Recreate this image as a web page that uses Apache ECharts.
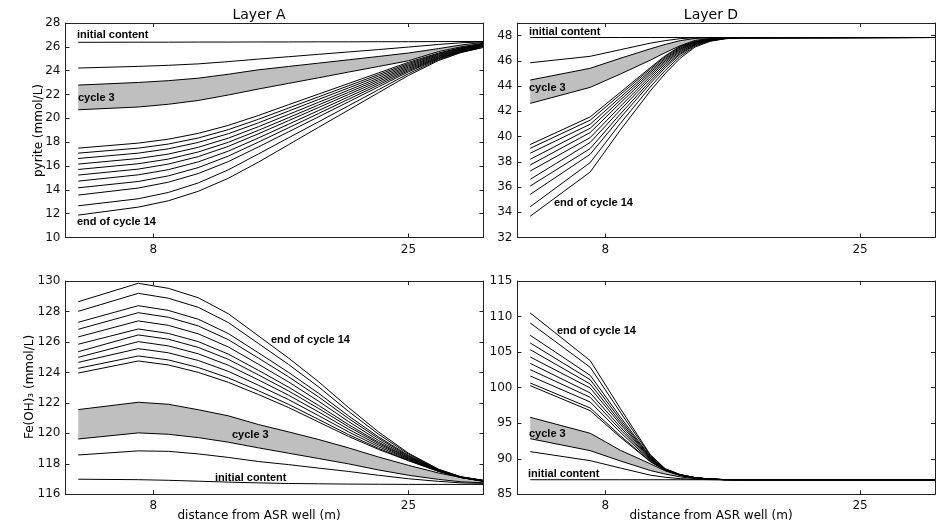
<!DOCTYPE html>
<html>
<head>
<meta charset="utf-8">
<script src="https://cdn.jsdelivr.net/npm/echarts@6/dist/echarts.min.js"></script>
<style>
  html, body { margin: 0; padding: 0; background: #fff; }
  #chart { width: 939px; height: 525px; }
</style>
</head>
<body>
<div id="chart"></div>
<script>
// Distance from the ASR well (m) at which concentrations are reported
var xLayerA = [3, 7, 9, 11, 13, 15, 17, 19, 21, 23, 25, 27, 28.5, 30];
var xLayerD = [3, 7, 9, 11, 12, 13, 14, 15, 16, 17, 30];

// Tick positions
var xTicks = [8, 25];
var yTicksPyriteA = [10, 12, 14, 16, 18, 20, 22, 24, 26, 28];
var yTicksPyriteD = [32, 34, 36, 38, 40, 42, 44, 46, 48];
var yTicksFeA = [116, 118, 120, 122, 124, 126, 128, 130];
var yTicksFeD = [85, 90, 95, 100, 105, 110, 115];

// Pyrite, layer A (mmol/L): initial content, then end of cycles 1..14
var pyriteA = [
  [26.38, 26.39, 26.39, 26.40, 26.40, 26.41, 26.41, 26.42, 26.42, 26.43, 26.43, 26.44, 26.45, 26.45],
  [24.22, 24.36, 24.45, 24.57, 24.76, 24.97, 25.17, 25.37, 25.57, 25.77, 25.98, 26.20, 26.34, 26.42],
  [22.79, 23.01, 23.16, 23.37, 23.70, 24.07, 24.35, 24.63, 24.91, 25.19, 25.48, 25.85, 26.15, 26.38],
  [20.72, 20.95, 21.18, 21.50, 21.96, 22.46, 22.93, 23.40, 23.88, 24.35, 24.83, 25.60, 26.00, 26.30],
  [17.50, 17.92, 18.25, 18.74, 19.41, 20.24, 21.14, 22.03, 22.92, 23.81, 24.70, 25.48, 25.93, 26.25],
  [17.08, 17.50, 17.84, 18.35, 19.05, 19.92, 20.86, 21.80, 22.73, 23.67, 24.60, 25.42, 25.89, 26.22],
  [16.63, 17.08, 17.44, 17.98, 18.71, 19.62, 20.60, 21.58, 22.55, 23.53, 24.50, 25.36, 25.84, 26.19],
  [16.16, 16.63, 17.00, 17.57, 18.34, 19.30, 20.32, 21.34, 22.36, 23.38, 24.40, 25.29, 25.80, 26.16],
  [15.71, 16.19, 16.58, 17.18, 17.99, 18.99, 20.05, 21.12, 22.18, 23.24, 24.30, 25.23, 25.75, 26.13],
  [15.24, 15.74, 16.16, 16.79, 17.65, 18.70, 19.80, 20.90, 22.00, 23.10, 24.20, 25.16, 25.71, 26.10],
  [14.73, 15.26, 15.69, 16.35, 17.25, 18.35, 19.50, 20.65, 21.80, 22.95, 24.10, 25.10, 25.67, 26.07],
  [14.17, 14.70, 15.17, 15.87, 16.83, 18.00, 19.20, 20.40, 21.60, 22.80, 24.00, 25.05, 25.63, 26.04],
  [13.56, 14.15, 14.64, 15.37, 16.37, 17.60, 18.86, 20.12, 21.38, 22.64, 23.90, 24.99, 25.60, 26.01],
  [12.66, 13.25, 13.78, 14.58, 15.68, 17.01, 18.36, 19.70, 21.05, 22.40, 23.75, 24.92, 25.55, 25.98],
  [11.88, 12.55, 13.08, 13.88, 14.97, 16.32, 17.78, 19.24, 20.69, 22.15, 23.60, 24.85, 25.52, 25.95]
];

// Pyrite, layer D (mmol/L)
var pyriteD = [
  [47.85, 47.85, 47.85, 47.85, 47.85, 47.85, 47.85, 47.85, 47.85, 47.85, 47.85],
  [45.85, 46.36, 46.88, 47.40, 47.60, 47.76, 47.83, 47.85, 47.85, 47.85, 47.85],
  [44.48, 45.41, 46.20, 46.95, 47.30, 47.60, 47.78, 47.83, 47.85, 47.85, 47.85],
  [42.63, 43.90, 44.95, 46.05, 46.65, 47.20, 47.62, 47.78, 47.83, 47.85, 47.85],
  [39.37, 41.56, 43.50, 45.45, 46.40, 47.15, 47.55, 47.75, 47.82, 47.84, 47.85],
  [39.07, 41.30, 43.32, 45.34, 46.32, 47.09, 47.52, 47.74, 47.82, 47.84, 47.85],
  [38.68, 40.98, 43.10, 45.20, 46.21, 47.02, 47.49, 47.72, 47.81, 47.84, 47.85],
  [38.20, 40.66, 42.88, 45.07, 46.11, 46.95, 47.46, 47.71, 47.81, 47.84, 47.85],
  [37.75, 40.32, 42.65, 44.92, 46.00, 46.88, 47.42, 47.69, 47.80, 47.83, 47.85],
  [37.27, 39.92, 42.38, 44.76, 45.88, 46.79, 47.38, 47.68, 47.79, 47.83, 47.85],
  [36.61, 39.53, 42.10, 44.59, 45.75, 46.71, 47.34, 47.66, 47.79, 47.83, 47.85],
  [36.08, 39.05, 41.78, 44.39, 45.60, 46.60, 47.29, 47.64, 47.78, 47.83, 47.85],
  [35.42, 38.60, 41.47, 44.20, 45.45, 46.51, 47.25, 47.61, 47.77, 47.83, 47.85],
  [34.44, 37.94, 41.02, 43.92, 45.24, 46.36, 47.18, 47.58, 47.76, 47.82, 47.85],
  [33.69, 37.19, 40.50, 43.60, 45.00, 46.20, 47.10, 47.55, 47.75, 47.82, 47.85]
];

// Fe(OH)3, layer A (mmol/L)
var feA = [
  [116.99, 116.96, 116.92, 116.86, 116.80, 116.75, 116.71, 116.69, 116.67, 116.66, 116.65, 116.65, 116.65, 116.65],
  [118.58, 118.85, 118.82, 118.65, 118.42, 118.15, 117.95, 117.72, 117.50, 117.25, 117.02, 116.85, 116.75, 116.72],
  [119.63, 120.03, 119.94, 119.72, 119.42, 119.05, 118.70, 118.35, 118.00, 117.60, 117.25, 116.98, 116.82, 116.75],
  [121.56, 122.04, 121.91, 121.55, 121.15, 120.58, 120.10, 119.60, 119.05, 118.45, 117.90, 117.40, 117.10, 116.88],
  [123.96, 124.75, 124.49, 124.00, 123.35, 122.55, 121.70, 120.75, 119.80, 118.95, 118.20, 117.50, 117.10, 116.85],
  [124.27, 125.08, 124.82, 124.32, 123.64, 122.80, 121.91, 120.92, 119.92, 119.02, 118.23, 117.51, 117.10, 116.85],
  [124.66, 125.56, 125.29, 124.78, 124.07, 123.16, 122.22, 121.17, 120.10, 119.13, 118.28, 117.52, 117.11, 116.86],
  [124.99, 126.02, 125.74, 125.22, 124.47, 123.51, 122.51, 121.41, 120.27, 119.24, 118.32, 117.54, 117.11, 116.87],
  [125.36, 126.46, 126.18, 125.64, 124.86, 123.84, 122.79, 121.64, 120.44, 119.34, 118.37, 117.55, 117.12, 116.87],
  [125.85, 126.85, 126.56, 126.02, 125.20, 124.14, 123.04, 121.84, 120.58, 119.42, 118.41, 117.56, 117.12, 116.88],
  [126.33, 127.38, 127.09, 126.53, 125.67, 124.54, 123.38, 122.12, 120.78, 119.54, 118.46, 117.58, 117.13, 116.89],
  [126.83, 127.92, 127.62, 127.05, 126.15, 124.94, 123.72, 122.40, 120.98, 119.67, 118.51, 117.59, 117.13, 116.89],
  [127.29, 128.38, 128.07, 127.49, 126.55, 125.29, 124.01, 122.64, 121.15, 119.77, 118.56, 117.61, 117.14, 116.90],
  [128.01, 129.19, 128.87, 128.27, 127.27, 125.90, 124.53, 123.06, 121.45, 119.95, 118.64, 117.63, 117.14, 116.91],
  [128.64, 129.85, 129.52, 128.90, 127.85, 126.40, 124.95, 123.40, 121.70, 120.10, 118.70, 117.65, 117.15, 116.92]
];

// Fe(OH)3, layer D (mmol/L)
var feD = [
  [87.05, 87.05, 87.05, 87.05, 87.05, 87.05, 87.05, 87.05, 87.05, 87.05, 87.05],
  [91.00, 89.73, 88.70, 87.70, 87.40, 87.20, 87.10, 87.06, 87.05, 87.05, 87.05],
  [92.82, 91.14, 89.70, 88.35, 87.85, 87.45, 87.20, 87.08, 87.05, 87.05, 87.05],
  [95.83, 93.58, 91.20, 89.30, 88.30, 87.65, 87.30, 87.12, 87.06, 87.05, 87.05],
  [100.28, 96.76, 93.04, 89.60, 88.35, 87.68, 87.30, 87.12, 87.06, 87.05, 87.05],
  [100.65, 97.14, 93.26, 89.65, 88.36, 87.68, 87.30, 87.12, 87.06, 87.05, 87.05],
  [101.64, 97.98, 93.74, 89.77, 88.39, 87.69, 87.31, 87.12, 87.06, 87.05, 87.05],
  [102.53, 98.64, 94.12, 89.87, 88.42, 87.70, 87.31, 87.13, 87.06, 87.05, 87.05],
  [103.42, 99.25, 94.48, 89.95, 88.44, 87.71, 87.32, 87.13, 87.06, 87.05, 87.05],
  [104.31, 99.95, 94.88, 90.05, 88.46, 87.72, 87.32, 87.13, 87.06, 87.05, 87.05],
  [105.34, 100.51, 95.20, 90.13, 88.48, 87.73, 87.33, 87.14, 87.06, 87.05, 87.05],
  [106.28, 101.12, 95.55, 90.22, 88.50, 87.74, 87.33, 87.14, 87.06, 87.05, 87.05],
  [107.36, 101.73, 95.91, 90.31, 88.53, 87.75, 87.34, 87.14, 87.07, 87.05, 87.05],
  [109.09, 102.86, 96.56, 90.47, 88.57, 87.77, 87.34, 87.15, 87.07, 87.05, 87.05],
  [110.50, 103.80, 97.10, 90.60, 88.60, 87.78, 87.35, 87.15, 87.07, 87.05, 87.05]
];

var AXIS_FONT = '"DejaVu Sans", sans-serif';
var NOTE_FONT = 'bold 11px "Liberation Sans", Arial, sans-serif';
var FRAME = '#222';

// Plot boxes: top-left, top-right, bottom-left, bottom-right
var panels = [
  { grid: { left: 65.5, top: 23, width: 418, height: 214.5 }, xs: xLayerA, rows: pyriteA, yMin: 10, yMax: 28, yTicks: yTicksPyriteA },
  { grid: { left: 517.5, top: 23, width: 417.5, height: 214.5 }, xs: xLayerD, rows: pyriteD, yMin: 32, yMax: 49, yTicks: yTicksPyriteD },
  { grid: { left: 65.5, top: 281, width: 418, height: 213.3 }, xs: xLayerA, rows: feA, yMin: 116, yMax: 130, yTicks: yTicksFeA },
  { grid: { left: 517.5, top: 281, width: 417.5, height: 213.3 }, xs: xLayerD, rows: feD, yMin: 85, yMax: 115, yTicks: yTicksFeD }
];

var grids = [], xAxes = [], yAxes = [], series = [];

panels.forEach(function (p, i) {
  grids.push(Object.assign({ containLabel: false }, p.grid));

  ['bottom', 'top'].forEach(function (pos) {
    xAxes.push({
      type: 'value', gridIndex: i, position: pos, min: 2.15, max: 30, z: 10,
      axisLine: { show: true, onZero: false, lineStyle: { color: FRAME, width: 1 } },
      axisTick: { show: true, inside: true, length: 4, customValues: xTicks, lineStyle: { color: FRAME } },
      axisLabel: { show: pos === 'bottom', customValues: xTicks, margin: 6, color: '#111', fontSize: 12, fontFamily: AXIS_FONT },
      splitLine: { show: false }
    });
  });
  ['left', 'right'].forEach(function (pos) {
    yAxes.push({
      type: 'value', gridIndex: i, position: pos, min: p.yMin, max: p.yMax, z: 10,
      axisLine: { show: true, onZero: false, lineStyle: { color: FRAME, width: 1 } },
      axisTick: { show: true, inside: true, length: 4, customValues: p.yTicks, lineStyle: { color: FRAME } },
      axisLabel: { show: pos === 'left', customValues: p.yTicks, margin: 5, color: '#111', fontSize: 12, fontFamily: AXIS_FONT },
      splitLine: { show: false }
    });
  });

  // Shaded band spanning cycle 3 (between end of cycle 2 and end of cycle 3)
  var bandA = p.rows[2], bandB = p.rows[3], xs = p.xs;
  series.push({
    type: 'custom', xAxisIndex: i * 2, yAxisIndex: i * 2, silent: true, animation: false, z: 1,
    data: [[xs[0], bandA[0]]],
    renderItem: function (params, api) {
      var pts = [];
      for (var k = 0; k < xs.length; k++) pts.push(api.coord([xs[k], bandA[k]]));
      for (var m = xs.length - 1; m >= 0; m--) pts.push(api.coord([xs[m], bandB[m]]));
      return { type: 'polygon', shape: { points: pts }, style: { fill: '#bfbfbf', stroke: null } };
    }
  });

  p.rows.forEach(function (row) {
    series.push({
      type: 'line', xAxisIndex: i * 2, yAxisIndex: i * 2,
      data: xs.map(function (x, k) { return [x, row[k]]; }),
      symbol: 'none', showSymbol: false, silent: true, animation: false, z: 3,
      lineStyle: { color: '#000', width: 1 }
    });
  });
});

function label(text, x, y, opts) {
  opts = opts || {};
  return {
    type: 'text', x: x, y: y, rotation: opts.rotation || 0, z: 20, silent: true,
    style: {
      text: text, font: opts.font || NOTE_FONT, fill: '#000',
      textAlign: opts.align || 'left', align: opts.align || 'left',
      textVerticalAlign: 'middle', verticalAlign: 'middle'
    }
  };
}

var titleFont = '14px ' + AXIS_FONT;
var nameFont = '12px ' + AXIS_FONT;

var graphics = [
  label('Layer A', 259, 15, { font: titleFont, align: 'center' }),
  label('Layer D', 711, 15, { font: titleFont, align: 'center' }),
  label('distance from ASR well (m)', 259, 516, { font: nameFont, align: 'center' }),
  label('distance from ASR well (m)', 711, 516, { font: nameFont, align: 'center' }),
  label('pyrite (mmol/L)', 39, 130.5, { font: nameFont, align: 'center', rotation: Math.PI / 2 }),
  label('Fe(OH)\u2083 (mmol/L)', 30, 387, { font: nameFont, align: 'center', rotation: Math.PI / 2 }),

  label('initial content', 77, 34.5),
  label('cycle 3', 78, 97.5),
  label('end of cycle 14', 77, 221.5),

  label('initial content', 529, 31.5),
  label('cycle 3', 529, 87.5),
  label('end of cycle 14', 554, 202.5),

  label('end of cycle 14', 271, 339.5),
  label('cycle 3', 232, 434.5),
  label('initial content', 215, 477.5),

  label('end of cycle 14', 557, 331),
  label('cycle 3', 529, 433.5),
  label('initial content', 528, 473.5)
];

var chart = echarts.init(document.getElementById('chart'), null, { renderer: 'canvas' });
chart.setOption({
  animation: false,
  backgroundColor: '#fff',
  grid: grids,
  xAxis: xAxes,
  yAxis: yAxes,
  series: series,
  graphic: { elements: graphics }
});
</script>
</body>
</html>
